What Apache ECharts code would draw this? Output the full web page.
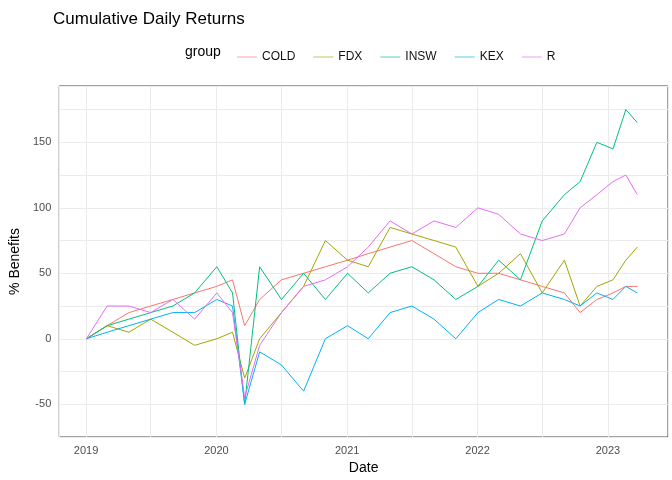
<!DOCTYPE html>
<html><head><meta charset="utf-8">
<script src="https://cdn.jsdelivr.net/npm/echarts@6/dist/echarts.min.js"></script>
<style>html,body{margin:0;background:#fff}#c{width:672px;height:480px}</style>
</head><body><div id="c"></div>
<script>
// sample dates (roughly every two months)
const dates = ["2019-01-02","2019-03-01","2019-05-01","2019-07-01","2019-09-01","2019-11-01","2020-01-02","2020-02-15","2020-03-20","2020-05-01","2020-07-01","2020-09-01","2020-11-01","2021-01-02","2021-03-01","2021-05-01","2021-07-01","2021-09-01","2021-11-01","2022-01-02","2022-03-01","2022-05-01","2022-07-01","2022-09-01","2022-10-15","2022-12-01","2023-01-15","2023-02-20","2023-03-24"];
const seriesNames = ["COLD","FDX","INSW","KEX","R"];
const colors = ["#F8766D","#A3A500","#00BF7D","#00B0F6","#E76BF3"];
const cold = [0,10,20,25,30,35,40,45,10,30,45,50,55,60,65,70,75,65,55,50,50,45,40,35,20,30,35,40,40];
const fdx  = [0,10,5,15,5,-5,0,5,-30,0,20,40,75,60,55,85,80,75,70,40,50,65,35,60,25,40,45,60,70];
const insw = [0,10,15,20,25,35,55,35,-50,55,30,50,30,50,35,50,55,45,30,40,60,45,90,110,120,150,145,175,165];
const kex  = [0,5,10,15,20,20,30,25,-50,-10,-20,-40,0,10,0,20,25,15,0,20,30,25,35,30,25,35,30,40,35];
const r    = [0,25,25,20,30,15,35,20,-45,-5,20,40,45,55,70,90,80,90,85,100,95,80,75,80,100,110,120,125,110];
const values = [cold,fdx,insw,kex,r];

const chart = echarts.init(document.getElementById("c"));
chart.setOption({
  animation: false,
  textStyle: {fontFamily: "Liberation Sans, Arial, sans-serif"},
  title: {text: "Cumulative Daily Returns", left: 48, top: 6,
    textStyle: {fontSize: 17, fontWeight: "normal", color: "#000"}},
  legend: {data: seriesNames, top: 46, left: 232, icon: "path://M0,0L30,0L30,1L0,1Z",
    itemWidth: 20, itemHeight: 1, itemGap: 18, textStyle: {fontSize: 12, color: "#111"}},
  graphic: [{type: "text", left: 185, top: 45, style: {text: "group", fontSize: 14, fill: "#000",
    font: "14px Liberation Sans"}}],
  grid: {left: 54, right: 4, top: 86, bottom: 43, show: true, borderColor: "#444", borderWidth: 1},
  xAxis: {type: "time", min: "2018-10-18", max: "2023-06-18", name: "Date", nameLocation: "middle",
    nameGap: 24, nameTextStyle: {fontSize: 14, color: "#000"},
    splitNumber: 9,
    axisLine: {show: false, onZero: false}, axisTick: {show: false},
    axisLabel: {color: "#4d4d4d", fontSize: 11,
      formatter: v => { const d = new Date(v); return d.getMonth() === 0 ? String(d.getFullYear()) : ""; }},
    splitLine: {show: true, lineStyle: {color: "#ebebeb"}}},
  yAxis: {type: "value", min: -75, max: 193, interval: 25, name: "% Benefits", nameLocation: "middle",
    nameGap: 34, nameTextStyle: {fontSize: 14, color: "#000"},
    axisLine: {show: false}, axisTick: {show: false},
    axisLabel: {color: "#4d4d4d", fontSize: 11, formatter: v => (v % 50 === 0 && v < 190 && v > -75) ? v : ""},
    splitLine: {lineStyle: {color: "#ebebeb"}}},
  series: seriesNames.map((n, i) => ({
    name: n, type: "line", showSymbol: false, color: colors[i],
    lineStyle: {width: 1}, data: dates.map((d, j) => [d, values[i][j]])
  }))
});
</script></body></html>
